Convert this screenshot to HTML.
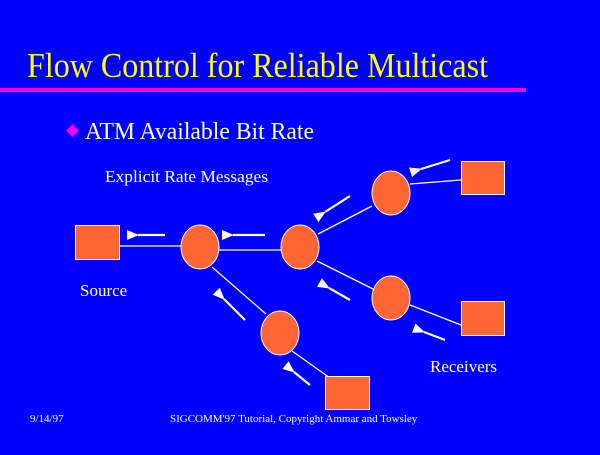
<!DOCTYPE html>
<html><head><style>
body{margin:0;width:600px;height:450px;background:#0000ff;overflow:hidden;font-family:"Liberation Serif",serif;}
</style></head><body>
<svg width="600" height="450" xmlns="http://www.w3.org/2000/svg">
<defs><marker id="a" markerWidth="12" markerHeight="10" refX="1" refY="5" orient="auto" markerUnits="userSpaceOnUse"><path d="M0,5 L12,0 L12,10 Z" fill="#fff"/></marker></defs>
<text x="27" y="77" fill="#ffff00" font-size="35" textLength="461" lengthAdjust="spacingAndGlyphs" font-family="Liberation Serif">Flow Control for Reliable Multicast</text>
<rect x="0" y="88" width="526" height="4" fill="#ff00cc"/>
<rect x="68" y="126" width="9" height="9" fill="#ff00ff" transform="rotate(45 72.5 130.5)"/>
<text x="85" y="139" fill="#fff" font-size="24" textLength="229" lengthAdjust="spacingAndGlyphs">ATM Available Bit Rate</text>
<text x="105" y="182" fill="#fff" font-size="17" textLength="163" lengthAdjust="spacingAndGlyphs">Explicit Rate Messages</text>
<g stroke="#fff" stroke-width="1.3">
<line x1="120" y1="246" x2="182" y2="246"/>
<line x1="219" y1="250" x2="281" y2="250"/>
<line x1="318" y1="234" x2="372" y2="206"/>
<line x1="410" y1="184" x2="461" y2="180"/>
<line x1="317" y1="261" x2="373" y2="289"/>
<line x1="410" y1="305" x2="461" y2="325"/>
<line x1="212" y1="267" x2="266" y2="314"/>
<line x1="292" y1="351" x2="330" y2="378"/>
</g>
<g fill="#ff6633" stroke="#fff" stroke-width="1">
<rect x="75.5" y="225.5" width="44" height="34"/>
<rect x="461.5" y="161.5" width="43" height="33"/>
<rect x="461.5" y="301.5" width="43" height="34"/>
<rect x="325.5" y="376.5" width="44" height="33"/>
<ellipse cx="200" cy="247" rx="19" ry="22"/>
<ellipse cx="300" cy="247" rx="19" ry="22"/>
<ellipse cx="391" cy="193" rx="19" ry="22"/>
<ellipse cx="391" cy="298" rx="19" ry="22"/>
<ellipse cx="280" cy="333" rx="19" ry="22"/>
</g>
<g stroke="#fff" stroke-width="2.2" marker-end="url(#a)">
<line x1="165" y1="235" x2="138" y2="235"/>
<line x1="265" y1="235" x2="233" y2="235"/>
<line x1="350" y1="196" x2="325" y2="212"/>
<line x1="450" y1="160" x2="421" y2="169"/>
<line x1="350" y1="300" x2="329" y2="288"/>
<line x1="445" y1="340" x2="424" y2="332"/>
<line x1="245" y1="320" x2="224" y2="299"/>
<line x1="310" y1="385" x2="294" y2="372"/>
</g>
<text x="80" y="296" fill="#fff" font-size="17">Source</text>
<text x="430" y="372" fill="#fff" font-size="17">Receivers</text>
<text x="30" y="422" fill="#fff" font-size="11">9/14/97</text>
<text x="170" y="422" fill="#fff" font-size="11">SIGCOMM'97 Tutorial, Copyright Ammar and Towsley</text>
</svg>
</body></html>
